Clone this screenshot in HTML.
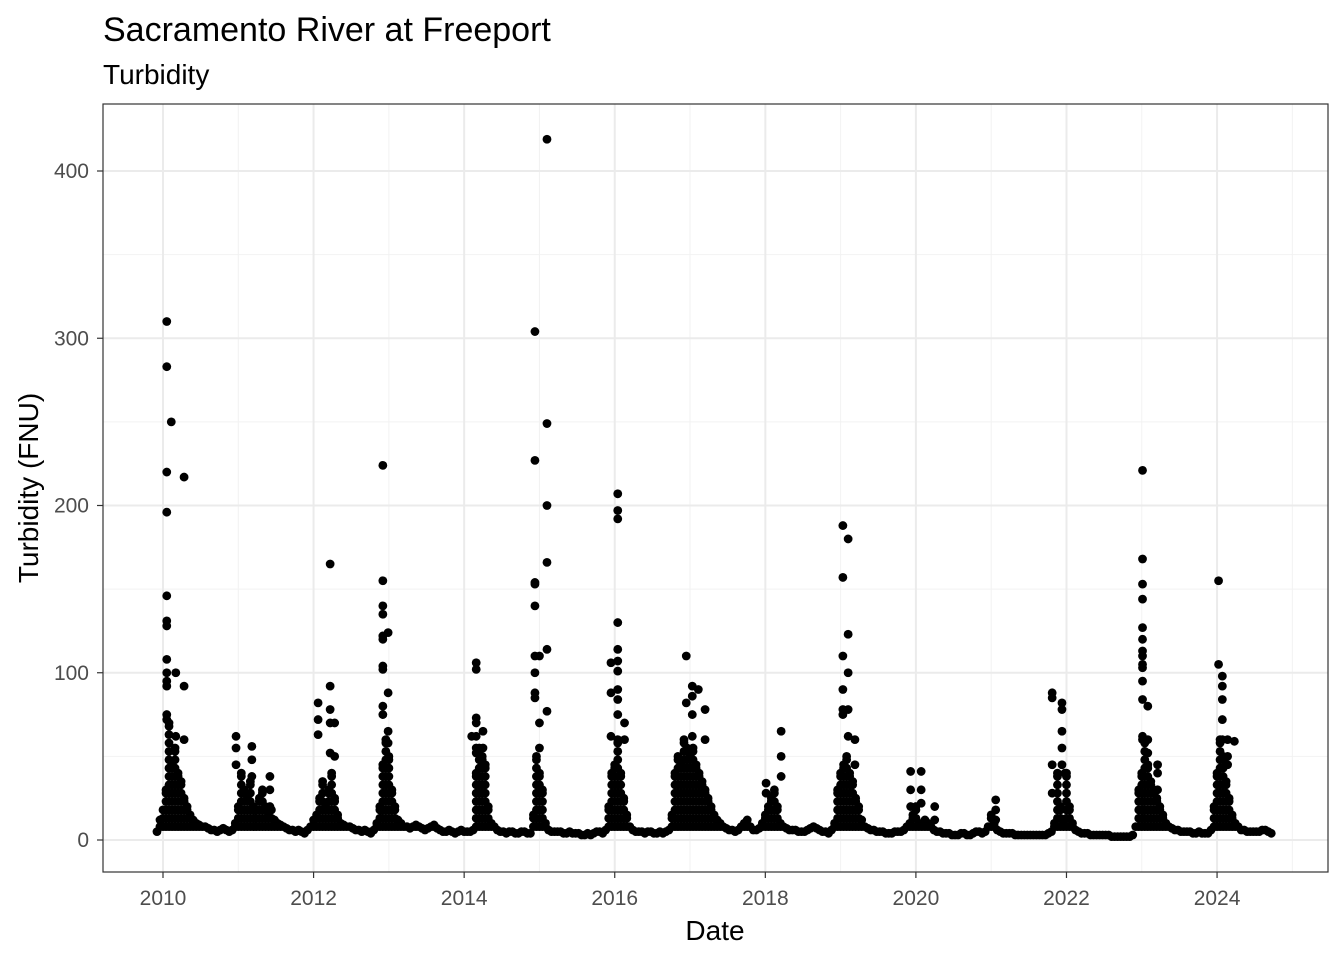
<!DOCTYPE html>
<html><head><meta charset="utf-8"><style>
body{margin:0;background:#fff;width:1344px;height:960px;overflow:hidden}
svg text{font-family:"Liberation Sans",Arial,sans-serif}
</style></head><body>
<svg id="chart" width="1344" height="960">
<text x="103" y="41" font-size="34" fill="#000">Sacramento River at Freeport</text>
<text x="103" y="84" font-size="28" fill="#000">Turbidity</text>
<g id="grid"></g><g id="pts"></g><g id="axes"></g>
<rect x="103" y="104" width="1225" height="768" fill="none" stroke="#333" stroke-width="1.2"/>
<text x="715" y="940" font-size="28" text-anchor="middle">Date</text>
<text transform="translate(38,488) rotate(-90)" font-size="28" text-anchor="middle">Turbidity (FNU)</text>
</svg>
<script>
const xTicks=[2010,2012,2014,2016,2018,2020,2022,2024];
const yTicks=[0,100,200,300,400];
const baseStart=2009.92;
const baseStep=0.04;
const baseValues=[5,12,18,
30,70,45,55,40,35,25,20,15,12,10,9,8,8,7,6,6,5,6,7,6,5,6,10,
20,40,30,25,35,20,18,25,30,20,15,18,12,10,9,8,7,6,6,5,6,5,4,6,8,
12,15,25,35,20,30,40,25,15,10,9,8,8,7,6,6,5,6,5,4,6,10,20,45,60,
50,30,20,12,10,8,8,7,8,9,8,7,6,7,8,9,7,6,5,5,6,5,4,5,6,
5,5,5,6,40,55,50,45,20,10,8,6,5,5,4,5,5,4,4,5,5,4,4,15,50,
40,30,10,6,5,5,5,5,4,4,5,4,4,4,3,3,4,3,4,5,5,4,6,20,40,
45,60,40,25,15,8,6,5,5,5,4,5,5,4,4,5,4,5,6,15,40,50,45,60,55,
50,55,45,40,35,30,25,20,15,12,10,8,7,6,6,5,6,8,10,12,8,6,6,7,10,
15,20,25,30,20,10,8,7,6,6,6,5,5,5,6,7,8,7,6,5,5,4,6,10,30,
40,45,50,40,35,25,20,12,8,7,6,6,5,5,5,4,4,4,5,5,5,6,8,10,15,
20,10,8,12,10,8,6,5,5,4,4,4,3,3,3,4,4,3,3,4,5,5,4,5,8,
15,10,6,5,4,4,4,4,3,3,3,3,3,3,3,3,3,3,3,4,5,10,40,20,10,
40,20,10,6,5,4,4,4,3,3,3,3,3,3,3,2,2,2,2,2,2,2,3,8,30,
40,60,45,35,30,25,20,15,10,8,7,6,6,5,5,5,5,4,4,5,4,4,4,6,20,
40,60,50,35,25,15,10,8,6,6,5,5,5,5,5,6,6,5,4];
const spikeDates=[2010.05,2010.05,2010.05,2010.05,2010.05,2010.05,2010.05,2010.05,2010.05,2010.05,2010.05,2010.05,2010.05,2010.11,2010.28,2010.28,2010.28,2010.17,2010.17,
2010.97,2010.97,2010.97,2011.18,2011.18,2011.18,2011.42,2011.42,2011.42,
2012.06,2012.06,2012.06,2012.22,2012.22,2012.22,2012.22,2012.22,2012.28,2012.28,
2012.92,2012.92,2012.92,2012.92,2012.92,2012.92,2012.92,2012.92,2012.92,2012.92,2012.99,2012.99,2012.99,2012.99,
2014.16,2014.16,2014.16,2014.16,2014.16,2014.16,2014.16,2014.25,2014.25,2014.25,2014.1,
2014.94,2014.94,2014.94,2014.94,2014.94,2014.94,2014.94,2014.94,2014.94,2015.0,2015.0,2015.0,2015.1,2015.1,2015.1,2015.1,2015.1,2015.1,
2016.04,2016.04,2016.04,2016.04,2016.04,2016.04,2016.04,2016.04,2016.04,2016.04,2015.95,2015.95,2015.95,2016.13,2016.13,
2016.95,2016.95,2017.03,2017.03,2017.03,2017.03,2017.11,2017.2,2017.2,
2018.21,2018.21,2018.21,2018.01,2018.01,
2019.03,2019.03,2019.03,2019.03,2019.03,2019.03,2019.1,2019.1,2019.1,2019.1,2019.1,2019.19,2019.19,
2019.93,2019.93,2019.93,2020.07,2020.07,2020.07,2020.25,2020.25,
2021.06,2021.06,2021.06,
2021.81,2021.81,2021.81,2021.81,2021.94,2021.94,2021.94,2021.94,2021.94,2021.98,
2023.01,2023.01,2023.01,2023.01,2023.01,2023.01,2023.01,2023.01,2023.01,2023.01,2023.01,2023.01,2023.01,2023.01,2023.08,2023.08,2023.08,2023.21,2023.21,2023.21,
2024.02,2024.02,2024.07,2024.07,2024.07,2024.07,2024.07,2024.14,2024.14,2024.14,2024.23];
const spikeValues=[310,283,220,196,146,131,128,108,100,95,92,75,72,250,217,92,60,100,62,
62,55,45,56,48,38,38,30,20,
82,72,63,165,92,78,70,52,70,50,
224,155,140,135,122,120,104,102,80,75,124,88,65,58,
106,102,73,70,62,55,52,65,55,45,62,
304,227,153,154,140,110,100,88,85,110,70,55,419,249,200,166,114,77,
207,197,192,130,114,107,101,90,84,75,106,88,62,70,60,
110,82,92,86,75,62,90,78,60,
65,50,38,34,28,
188,157,110,90,78,75,180,123,100,78,62,60,45,
41,30,20,41,30,22,20,12,
24,18,12,
88,85,45,28,82,78,65,55,45,40,
221,168,153,144,127,120,113,110,105,103,95,84,60,62,80,60,52,45,40,30,
155,105,98,92,84,72,60,60,50,45,59];
const NS='http://www.w3.org/2000/svg';
const xS=d=>163+(d-2010)*75.29;
const yS=v=>840-v*1.6725;
const grid=document.getElementById('grid'),pts=document.getElementById('pts'),axes=document.getElementById('axes');
function mk(tag,attrs,parent){const e=document.createElementNS(NS,tag);for(const k in attrs)e.setAttribute(k,attrs[k]);parent.appendChild(e);return e;}
mk('rect',{x:103,y:104,width:1225,height:768,fill:'#fff'},grid);
for(let yr=2009;yr<=2025;yr+=2){if(xS(yr)<103||xS(yr)>1328)continue;const l=mk('line',{x1:xS(yr),x2:xS(yr),y1:104,y2:872,stroke:'#f2f2f2','stroke-width':1},grid);

}
for(let v=-50;v<=450;v+=100){if(yS(v)<104||yS(v)>872)continue;const l=mk('line',{x1:103,x2:1328,y1:yS(v),y2:yS(v),stroke:'#f2f2f2','stroke-width':1},grid);

}
xTicks.forEach(t=>{const l=mk('line',{x1:xS(t),x2:xS(t),y1:104,y2:872,stroke:'#ebebeb','stroke-width':2},grid);


mk('line',{x1:xS(t),x2:xS(t),y1:872,y2:878,stroke:'#333','stroke-width':1.2},axes);
const tx=mk('text',{x:xS(t),y:905,'font-size':21,fill:'#4d4d4d','text-anchor':'middle'},axes);tx.textContent=t;

});
yTicks.forEach(t=>{const l=mk('line',{x1:103,x2:1328,y1:yS(t),y2:yS(t),stroke:'#ebebeb','stroke-width':2},grid);


mk('line',{x1:97,x2:103,y1:yS(t),y2:yS(t),stroke:'#333','stroke-width':1.2},axes);
const tx=mk('text',{x:89,y:yS(t)+7,'font-size':21,fill:'#4d4d4d','text-anchor':'end'},axes);tx.textContent=t;

});
baseValues.forEach((v,i)=>{const d=baseStart+i*baseStep;
const c=mk('circle',{cx:xS(d),cy:yS(v),r:4.4,fill:'#000'},pts);


if(v>8){for(let k=8;k<v;k+=5){const c2=mk('circle',{cx:xS(d),cy:yS(k),r:4.4,fill:'#000'},pts);

}}});
spikeDates.forEach((d,i)=>{const c=mk('circle',{cx:xS(d),cy:yS(spikeValues[i]),r:4.4,fill:'#000'},pts);

});
</script>
</body></html>
